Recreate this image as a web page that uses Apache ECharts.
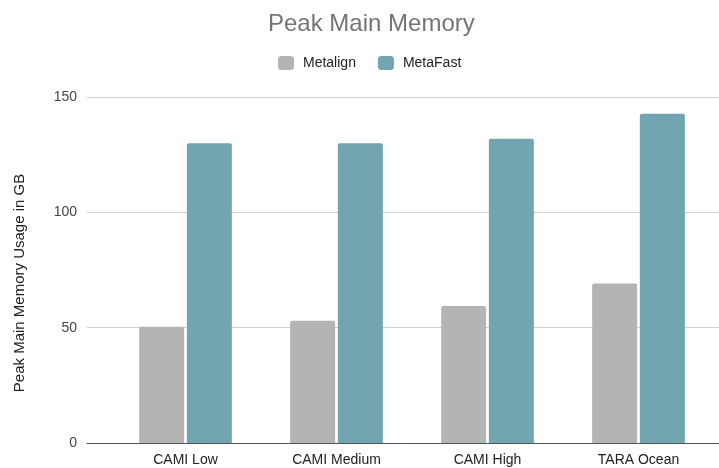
<!DOCTYPE html>
<html>
<head>
<meta charset="utf-8">
<script src="https://cdn.jsdelivr.net/npm/echarts@6/dist/echarts.min.js"></script>
<style>
  html, body { margin: 0; padding: 0; background: #fff; }
  #main { width: 719px; height: 468px; }
</style>
</head>
<body>
<div id="main"></div>
<script>
var categories = ['CAMI Low', 'CAMI Medium', 'CAMI High', 'TARA Ocean'];
var metalign = [50.4, 53.0, 59.4, 69.1];
var metafast = [129.9, 129.9, 131.9, 142.7];
var yTicks = [0, 50, 100, 150];

var dom = document.getElementById('main');
var myChart = echarts.init(dom);
var font = '"Liberation Sans", Arial, sans-serif';

var option = {
	backgroundColor: '#ffffff',
	animation: false,
	textStyle: { fontFamily: font },
	title: {
		text: 'Peak Main Memory',
		left: 263,
		top: 7,
		textStyle: { fontSize: 24, fontWeight: 'normal', color: '#757575', fontFamily: font }
	},
	legend: {
		top: 51,
		left: 273,
		itemWidth: 16,
		itemHeight: 14,
		itemGap: 22,
		icon: 'roundRect',
		textStyle: { fontSize: 14, color: '#222', fontFamily: font, padding: [0, 0, 0, 4] },
		data: ['Metalign', 'MetaFast']
	},
	grid: [
		{ left: 87, right: 0, top: 97, bottom: 25 },
		{ left: 110, right: 5, top: 97, bottom: 25 }
	],
	xAxis: [
		{
			type: 'category',
			gridIndex: 0,
			data: categories,
			axisLine: { lineStyle: { color: '#555', width: 1 } },
			axisTick: { show: false },
			axisLabel: { show: false }
		},
		{
			type: 'category',
			gridIndex: 1,
			data: categories,
			axisLine: { show: false },
			axisTick: { show: false },
			axisLabel: { fontSize: 14, color: '#222', margin: 10, fontFamily: font }
		}
	],
	yAxis: [
		{
			type: 'value',
			gridIndex: 0,
			min: yTicks[0],
			max: yTicks[yTicks.length - 1],
			interval: 50,
			name: 'Peak Main Memory Usage in GB',
			nameLocation: 'middle',
			nameGap: 60,
			nameTextStyle: { fontSize: 15, color: '#222', fontFamily: font, padding: [0, 26, 0, 0] },
			axisLine: { show: false },
			axisTick: { show: false },
			axisLabel: { fontSize: 14, color: '#444', margin: 10, fontFamily: font },
			splitLine: { lineStyle: { color: '#d0d0d0', width: 1 } }
		},
		{
			type: 'value',
			gridIndex: 1,
			min: yTicks[0],
			max: yTicks[yTicks.length - 1],
			interval: 50,
			show: false,
			splitLine: { show: false }
		}
	],
	series: [
		{
			name: 'Metalign',
			type: 'bar',
			xAxisIndex: 1,
			yAxisIndex: 1,
			data: metalign,
			barWidth: 45,
			barGap: '6%',
			itemStyle: { color: '#b4b4b4', borderRadius: [2, 2, 0, 0] }
		},
		{
			name: 'MetaFast',
			type: 'bar',
			xAxisIndex: 1,
			yAxisIndex: 1,
			data: metafast,
			barWidth: 45,
			barGap: '6%',
			itemStyle: { color: '#72a5af', borderRadius: [2, 2, 0, 0] }
		}
	]
};

myChart.setOption(option, true);
</script>
</body>
</html>
